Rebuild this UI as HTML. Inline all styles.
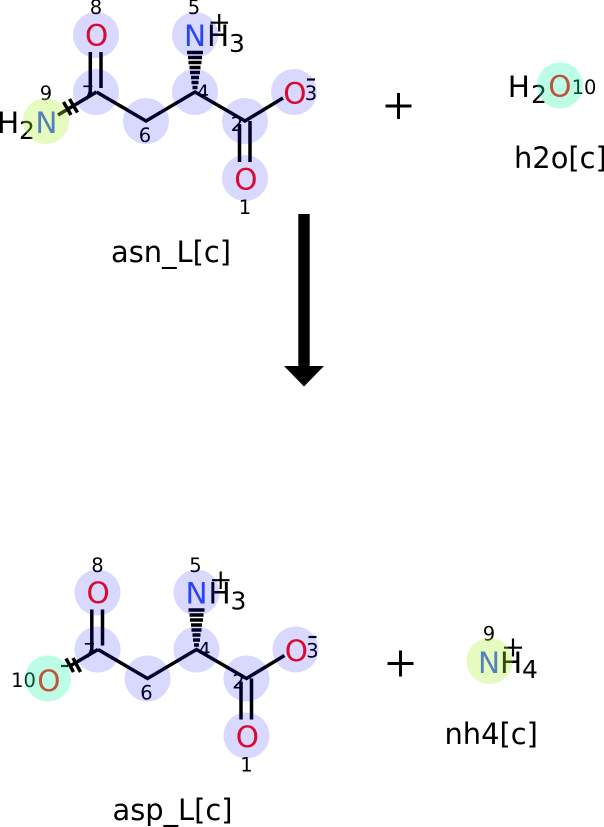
<!DOCTYPE html>
<html>
<head>
<meta charset="utf-8">
<style>
html,body{margin:0;padding:0;background:#fff;width:604px;height:827px;overflow:hidden}
svg{display:block}
text{font-family:"DejaVu Sans","Liberation Sans",sans-serif;fill:#000}
.a{font-size:29.5px}
.s{font-size:25px}
.n{font-size:19.5px;text-anchor:middle}
.t{font-size:28.9px}
.r{fill:#ff0d0d}
.b{fill:#3050f8}
.bond{stroke:#000;stroke-width:3.500;fill:none}
.plus{stroke:#000;stroke-width:3;fill:none}
.thin{stroke:#000;stroke-width:2.200;fill:none}
.ci{fill:rgba(0,0,255,.15)}
.gr{fill:rgba(172,242,45,.3)}
.te{fill:rgba(38,248,170,.3)}
</style>
</head>
<body>
<svg width="604" height="827" viewBox="0 0 604 827" xmlns="http://www.w3.org/2000/svg">

<!-- top molecule: asn_L -->
<g>
  <text class="n" x="96" y="14">8</text>
  <text class="n" x="194" y="14">5</text>
  <text class="n" x="46" y="100">9</text>
  <text class="n" x="88" y="100">7</text>
  <text class="n" x="203" y="99">4</text>
  <text class="n" x="237" y="131">2</text>
  <text class="n" x="145" y="142">6</text>
  <text class="n" x="245" y="214">1</text>
  <text class="n" x="311" y="100">3</text>
  <path class="bond" d="M96.500 92L146 121L195 92L245 121L283 98"/>
  <path class="bond" d="M96.500 92L58 115"/>
  <path class="bond" d="M90.300 52V94M101 52V88M239.500 124V162M250 121V162"/>
  <path class="bond" d="M63.500 102L71 115M69.500 99L77.500 112.500"/>
  <path class="bond" d="M187 52.500H203M188 57.500H202M188.500 62.500H201.500M189.500 67.500H200.500M190 72.500H200M191 77.500H199M191.500 82.500H198.500M192.500 87.500H197.500"/>
  <path class="thin" d="M210.500 22.700H228M219.200 14V31.500"/>
  <path class="thin" d="M307 79.500H315"/>
  <text class="a r" x="85" y="45.500">O</text>
  <text class="a b" x="184" y="46">N</text>
  <text class="a" x="207" y="46">H</text>
  <text class="s" x="229" y="52">3</text>
  <text class="a r" x="283.300" y="103.500">O</text>
  <text class="a r" x="234.300" y="189.500">O</text>
  <text class="a b" x="35.400" y="133">N</text>
  <text class="a" x="-3" y="133">H</text>
  <text class="s" x="19" y="139">2</text>
  <circle class="ci" cx="96" cy="35" r="23"/>
  <circle class="ci" cx="96" cy="92" r="23"/>
  <circle class="ci" cx="146" cy="121" r="23"/>
  <circle class="ci" cx="195" cy="92" r="23"/>
  <circle class="ci" cx="195" cy="35" r="23"/>
  <circle class="ci" cx="245" cy="121" r="23"/>
  <circle class="ci" cx="294" cy="92" r="23"/>
  <circle class="ci" cx="245" cy="178" r="23"/>
  <circle class="gr" cx="46" cy="121" r="23"/>
</g>
<text class="t" x="111" y="262">asn_L[c]</text>

<!-- plus top -->
<path class="plus" d="M385.500 106H411.500M398.500 93V119"/>

<!-- h2o -->
<g>
  <text class="a" x="507.800" y="97">H</text>
  <text class="s" x="531" y="103">2</text>
  <text class="a r" x="548.300" y="96.500">O</text>
  <text class="n" x="584" y="94">10</text>
  <circle class="te" cx="560" cy="85.500" r="23"/>
</g>
<text class="t" x="514" y="168">h2o[c]</text>

<!-- reaction arrow -->
<path d="M298.300 214H309.700V366H324L304 386.500L284 366H298.300Z" fill="#000"/>

<!-- bottom molecule: asp_L -->
<g>
  <text class="n" x="97.500" y="572">8</text>
  <text class="n" x="195.500" y="572">5</text>
  <text class="n" x="89.500" y="657.500">7</text>
  <text class="n" x="204.500" y="656.500">4</text>
  <text class="n" x="238.500" y="688.500">2</text>
  <text class="n" x="146.500" y="699.500">6</text>
  <text class="n" x="246.500" y="771.500">1</text>
  <text class="n" x="312.500" y="657.500">3</text>
  <text class="n" x="23.500" y="687">10</text>
  <path class="bond" d="M98 649.500L147.500 678.500L196.500 649.500L246.500 678.500L284.500 655.500"/>
  <path class="bond" d="M98 649.500L70 666"/>
  <path class="bond" d="M91.800 609.500V651.500M102.500 609.500V645.500M241 681.500V719.500M251.500 678.500V719.500"/>
  <path class="bond" d="M66 658.500L73.500 672M73 658L80.500 672"/>
  <path class="bond" d="M188.500 610H204.500M189.500 615H203.500M190 620H203M191 625H202M191.500 630H201.500M192.500 635H200.500M193 640H200M194 645H199"/>
  <path class="thin" d="M212 580.200H229.500M220.700 571.500V589"/>
  <path class="thin" d="M308.500 637H316.500"/>
  <path class="thin" d="M61 666H68"/>
  <text class="a r" x="86.500" y="603">O</text>
  <text class="a b" x="185.500" y="603.500">N</text>
  <text class="a" x="208.500" y="603.500">H</text>
  <text class="s" x="230.500" y="609.500">3</text>
  <text class="a r" x="284.800" y="661">O</text>
  <text class="a r" x="235.800" y="747">O</text>
  <text class="a r" x="37.300" y="691">O</text>
  <circle class="ci" cx="97.500" cy="592.500" r="23"/>
  <circle class="ci" cx="97.500" cy="649.500" r="23"/>
  <circle class="ci" cx="147.500" cy="678.500" r="23"/>
  <circle class="ci" cx="196.500" cy="649.500" r="23"/>
  <circle class="ci" cx="196.500" cy="592.500" r="23"/>
  <circle class="ci" cx="246.500" cy="678.500" r="23"/>
  <circle class="ci" cx="295.500" cy="649.500" r="23"/>
  <circle class="ci" cx="246.500" cy="735.500" r="23"/>
  <circle class="te" cx="48" cy="678.500" r="23"/>
</g>
<text class="t" x="112.500" y="820">asp_L[c]</text>

<!-- plus bottom -->
<path class="plus" d="M387.500 663.500H413.500M400.500 650.500V676.500"/>

<!-- nh4 -->
<g>
  <text class="n" x="489" y="640.500">9</text>
  <text class="a b" x="478" y="673">N</text>
  <text class="a" x="500" y="673">H</text>
  <text class="s" x="522" y="678">4</text>
  <path class="thin" d="M504 647.700H522M513 638.500V656.500"/>
  <circle class="gr" cx="489.500" cy="661" r="23"/>
</g>
<text class="t" x="444.500" y="744">nh4[c]</text>

</svg>
</body>
</html>
